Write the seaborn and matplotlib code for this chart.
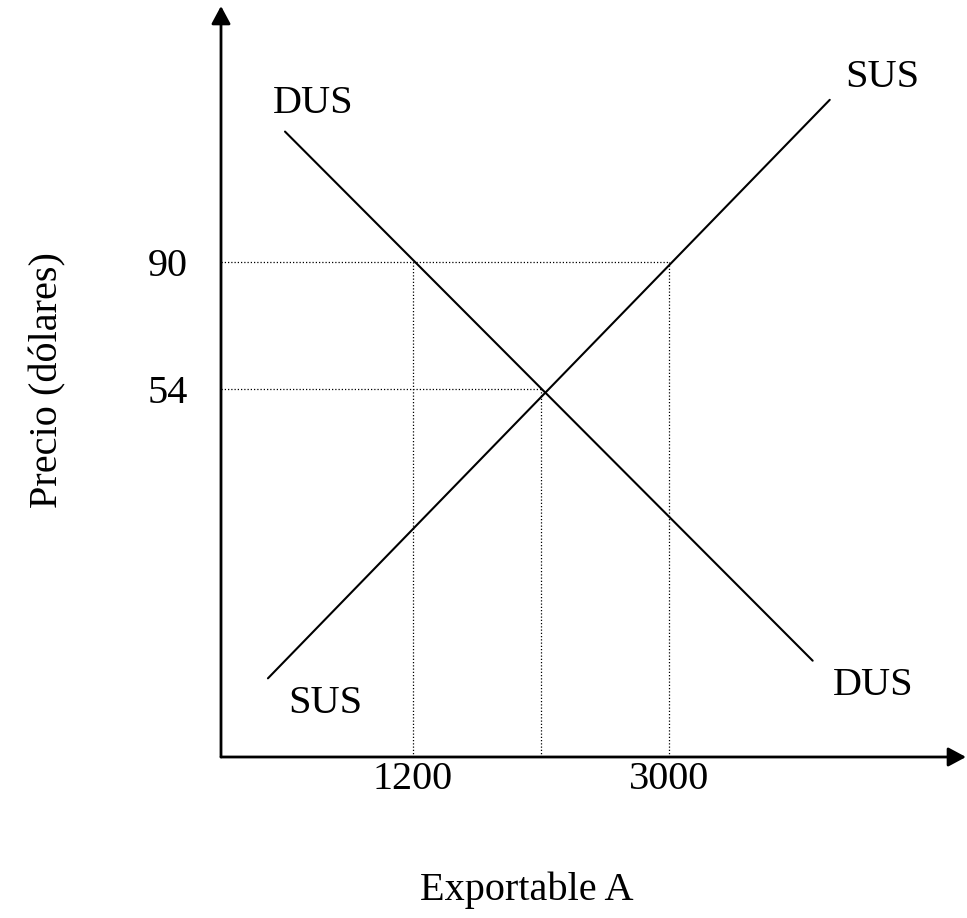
import matplotlib.pyplot as plt
import seaborn as sns

# curve end points (quantity, price)
demand_q = [300, 4010]
demand_p = [127, -23]
supply_q = [180, 4130]
supply_p = [-28, 136]

# marked values
x_ticks = [1200, 3000]
y_ticks = [90, 54]
q_eq, p_eq = 2100, 54
q_low, q_high, p_high = 1200, 3000, 90

x_min, x_max = -150, 5088
y_min, y_max = -50.3, 162.6

sns.set_theme(style="white")
plt.rcParams["font.family"] = ["Liberation Serif", "DejaVu Serif"]
plt.rcParams["text.color"] = "black"
plt.rcParams["axes.labelcolor"] = "black"
plt.rcParams["xtick.color"] = "black"
plt.rcParams["ytick.color"] = "black"
FS = 29

fig = plt.figure(figsize=(9.67, 9.18), dpi=100)
ax = fig.add_axes([221 / 967, 161 / 918, 745 / 967, 751 / 918])

sns.lineplot(x=demand_q, y=demand_p, color="black", lw=1.5, ax=ax)
sns.lineplot(x=supply_q, y=supply_p, color="black", lw=1.5, ax=ax)

# dotted guide lines
dot = dict(color="black", lw=0.9, linestyle=(0, (1, 1.6)))
ax.plot([x_min, q_high], [p_high, p_high], **dot)
ax.plot([x_min, q_eq], [p_eq, p_eq], **dot)
ax.plot([q_low, q_low], [y_min, p_high], **dot)
ax.plot([q_high, q_high], [y_min, p_high], **dot)
ax.plot([q_eq, q_eq], [y_min, p_eq], **dot)

# curve labels
ax.text(497, 132.2, "DUS", fontsize=FS, ha="center", va="baseline")
ax.text(4498, 139.6, "SUS", fontsize=FS, ha="center", va="baseline")
ax.text(581, -37.8, "SUS", fontsize=FS, ha="center", va="baseline")
ax.text(4434, -32.7, "DUS", fontsize=FS, ha="center", va="baseline")

ax.set_xlim(x_min, x_max)
ax.set_ylim(y_min, y_max)

# axes drawn as arrows
for spine in ax.spines.values():
    spine.set_visible(False)
arrow = dict(arrowstyle="-|>,head_length=0.54,head_width=0.29", color="black",
             lw=2, mutation_scale=20, shrinkA=0, shrinkB=0)
ax.annotate("", xy=(1, 0), xytext=(0, 0), xycoords="axes fraction",
            textcoords="axes fraction", arrowprops=arrow, annotation_clip=False)
ax.annotate("", xy=(0, 1), xytext=(0, 0), xycoords="axes fraction",
            textcoords="axes fraction", arrowprops=arrow, annotation_clip=False)

ax.set_xticks(x_ticks)
ax.set_xticklabels([str(v) for v in x_ticks])
ax.set_yticks(y_ticks)
ax.set_yticklabels([str(v) for v in y_ticks])
ax.tick_params(axis="x", length=0, pad=3, labelsize=FS)
ax.tick_params(axis="y", length=0, pad=24, labelsize=FS)

ax.set_xlabel("Exportable A", fontsize=FS, va="center")
ax.xaxis.set_label_coords(0.4107, -0.178)
ax.set_ylabel("Precio (dólares)", fontsize=FS, va="center")
ax.yaxis.set_label_coords(-0.233, 0.502)

fig.savefig("out.png", dpi=100)
